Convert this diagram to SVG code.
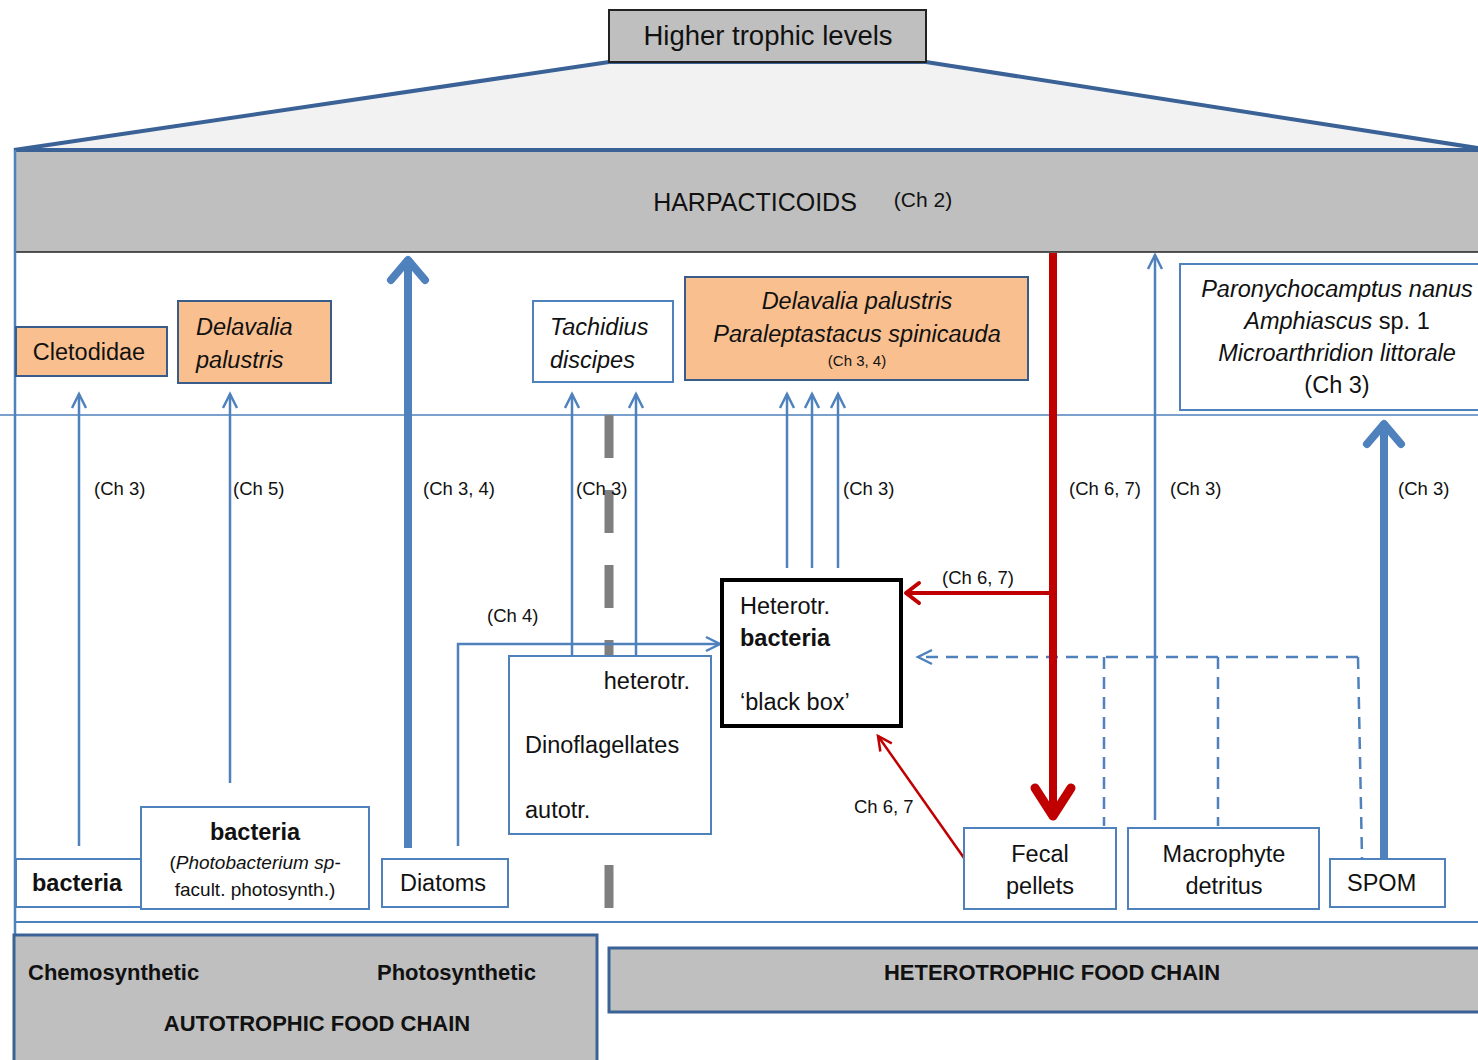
<svg xmlns="http://www.w3.org/2000/svg" width="1478" height="1060" viewBox="0 0 1478 1060">
<style>
text{font-family:"Liberation Sans","Open Sans",sans-serif;fill:#111}
.lab{font-size:18.5px}
.nt{font-size:23.5px}
.it{font-style:italic}
.b{font-weight:bold}
.box{fill:#fff;stroke:#4f81bd;stroke-width:2}
.org{fill:#f9bf8f;stroke:#385d8a;stroke-width:2}
.ar{fill:none;stroke:#4f81bd;stroke-width:2.5}
.arT{fill:none;stroke:#4f81bd;stroke-width:8}
.ds{fill:none;stroke:#4f81bd;stroke-width:2.5;stroke-dasharray:12 8}
.bt{font-weight:bold;font-size:22px}
</style>
<defs>
<marker id="mb" markerUnits="userSpaceOnUse" markerWidth="30" markerHeight="30" viewBox="-15 -15 30 30" refX="0" refY="0" orient="auto" overflow="visible">
<path d="M-14,-7 L0,0 L-14,7" fill="none" stroke="#4f81bd" stroke-width="2.5"/>
</marker>
<marker id="mbT" markerUnits="userSpaceOnUse" markerWidth="60" markerHeight="60" viewBox="-30 -30 60 60" refX="0" refY="0" orient="auto" overflow="visible">
<path d="M-22,-17 L-2,0 L-22,17" fill="none" stroke="#4f81bd" stroke-width="8" stroke-linecap="round" stroke-linejoin="round"/>
</marker>
<marker id="mr" markerUnits="userSpaceOnUse" markerWidth="40" markerHeight="40" viewBox="-20 -20 40 40" refX="0" refY="0" orient="auto" overflow="visible">
<path d="M-14,-10 L-1,0 L-14,10" fill="none" stroke="#c00000" stroke-width="4" stroke-linecap="round" stroke-linejoin="round"/>
</marker>
<marker id="mrT" markerUnits="userSpaceOnUse" markerWidth="80" markerHeight="80" viewBox="-40 -40 80 80" refX="0" refY="0" orient="auto" overflow="visible">
<path d="M-30,-18 L-2,0 L-30,18" fill="none" stroke="#c00000" stroke-width="9" stroke-linecap="round" stroke-linejoin="round"/>
</marker>
<marker id="mrs" markerUnits="userSpaceOnUse" markerWidth="30" markerHeight="30" viewBox="-15 -15 30 30" refX="0" refY="0" orient="auto" overflow="visible">
<path d="M-14,-7 L0,0 L-14,7" fill="none" stroke="#c00000" stroke-width="2.5"/>
</marker>
</defs>
<rect width="1478" height="1060" fill="#fff"/>

<g id="pyramid">
<polygon points="14,150 609,62 926,62 1490,150" fill="#f2f2f2" stroke="#3b6296" stroke-width="4"/>
</g>
<g id="higher">
<rect x="609" y="10" width="317" height="52" fill="#bfbfbf" stroke="#222" stroke-width="2"/>
<text x="768" y="45" font-size="27.5" text-anchor="middle">Higher trophic levels</text>
</g>
<g id="harpacticoids">
<rect x="14" y="150" width="1470" height="102" fill="#bfbfbf"/>
<line x1="14" y1="150" x2="1478" y2="150" stroke="#3b6296" stroke-width="4"/>
<line x1="14" y1="252" x2="1478" y2="252" stroke="#222" stroke-width="1.5"/>
<text x="755" y="211" font-size="25" text-anchor="middle">HARPACTICOIDS</text>
<text x="923" y="207" font-size="21" text-anchor="middle">(Ch 2)</text>
</g>
<g id="frame">
<line x1="15" y1="150" x2="15" y2="1060" stroke="#4f81bd" stroke-width="2.5"/>
<line x1="0" y1="415" x2="1478" y2="415" stroke="#4f81bd" stroke-width="1.5"/>
<line x1="14" y1="922" x2="1478" y2="922" stroke="#4f81bd" stroke-width="2"/>
<line x1="609" y1="415" x2="609" y2="908" stroke="#7f7f7f" stroke-width="9" stroke-dasharray="43 32"/>
</g>

<g id="connectors">
<line class="ar" x1="79" y1="846" x2="79" y2="394" marker-end="url(#mb)"/>
<line class="ar" x1="230" y1="783" x2="230" y2="394" marker-end="url(#mb)"/>
<line class="arT" x1="408" y1="848" x2="408" y2="258" marker-end="url(#mbT)"/>
<line class="ar" x1="572" y1="656" x2="572" y2="394" marker-end="url(#mb)"/>
<line class="ar" x1="636" y1="656" x2="636" y2="394" marker-end="url(#mb)"/>
<polyline class="ar" points="458,846 458,644 720,644" marker-end="url(#mb)"/>
<line class="ar" x1="787" y1="568" x2="787" y2="394" marker-end="url(#mb)"/>
<line class="ar" x1="812" y1="568" x2="812" y2="394" marker-end="url(#mb)"/>
<line class="ar" x1="838" y1="568" x2="838" y2="394" marker-end="url(#mb)"/>
<line class="ar" x1="1155" y1="820" x2="1155" y2="255" marker-end="url(#mb)"/>
<line class="arT" x1="1384" y1="858" x2="1384" y2="422" marker-end="url(#mbT)"/>
<polyline class="ds" points="1358,657 918,657" marker-end="url(#mb)"/>
<line class="ds" x1="1104" y1="657" x2="1104" y2="826"/>
<line class="ds" x1="1218" y1="657" x2="1218" y2="826"/>
<line class="ds" x1="1358" y1="657" x2="1362" y2="858"/>
<line x1="1053" y1="253" x2="1053" y2="818" stroke="#c00000" stroke-width="8" marker-end="url(#mrT)"/>
<line x1="1053" y1="593" x2="905" y2="593" stroke="#c00000" stroke-width="4" marker-end="url(#mr)"/>
<line x1="964" y1="858" x2="878" y2="736" stroke="#c00000" stroke-width="2.5" marker-end="url(#mrs)"/>
<text class="lab" x="94" y="495">(Ch 3)</text>
<text class="lab" x="233" y="495">(Ch 5)</text>
<text class="lab" x="423" y="495">(Ch 3, 4)</text>
<text class="lab" x="576" y="495">(Ch 3)</text>
<text class="lab" x="487" y="622">(Ch 4)</text>
<text class="lab" x="843" y="495">(Ch 3)</text>
<text class="lab" x="942" y="584">(Ch 6, 7)</text>
<text class="lab" x="854" y="813">Ch 6, 7</text>
<text class="lab" x="1069" y="495">(Ch 6, 7)</text>
<text class="lab" x="1170" y="495">(Ch 3)</text>
<text class="lab" x="1398" y="495">(Ch 3)</text>
</g>

<g id="cletodidae">
<rect class="org" x="16" y="327" width="151" height="49"/>
<text class="nt" x="89" y="360" text-anchor="middle">Cletodidae</text>
</g>
<g id="delavalia-left">
<rect class="org" x="178" y="301" width="153" height="82"/>
<text class="nt it" x="196" y="335">Delavalia</text>
<text class="nt it" x="196" y="368">palustris</text>
</g>
<g id="tachidius">
<rect class="box" x="533" y="301" width="140" height="81"/>
<text class="nt it" x="550" y="335">Tachidius</text>
<text class="nt it" x="550" y="368">discipes</text>
</g>
<g id="delavalia-para">
<rect class="org" x="685" y="277" width="343" height="103"/>
<text class="nt it" x="857" y="309" text-anchor="middle">Delavalia palustris</text>
<text class="nt it" x="857" y="342" text-anchor="middle">Paraleptastacus spinicauda</text>
<text x="857" y="366" font-size="15" text-anchor="middle">(Ch 3, 4)</text>
</g>
<g id="paronychocamptus">
<rect class="box" x="1180" y="264" width="310" height="146" stroke="#385d8a"/>
<text class="nt it" x="1337" y="297" text-anchor="middle">Paronychocamptus nanus</text>
<text class="nt" x="1337" y="329" text-anchor="middle"><tspan class="it">Amphiascus</tspan> sp. 1</text>
<text class="nt it" x="1337" y="361" text-anchor="middle">Microarthridion littorale</text>
<text class="nt" x="1337" y="393" text-anchor="middle">(Ch 3)</text>
</g>
<g id="heterotr-bacteria">
<rect x="722" y="580" width="179" height="146" fill="#fff" stroke="#000" stroke-width="4"/>
<text class="nt" x="740" y="614">Heterotr.</text>
<text class="nt b" x="740" y="646">bacteria</text>
<text class="nt" x="740" y="710">‘black box’</text>
</g>
<g id="dinoflagellates">
<rect class="box" x="509" y="656" width="202" height="178"/>
<text class="nt" x="690" y="689" text-anchor="end">heterotr.</text>
<text class="nt" x="525" y="753">Dinoflagellates</text>
<text class="nt" x="525" y="818">autotr.</text>
</g>
<g id="bacteria-chemo">
<rect class="box" x="16" y="859" width="125" height="48" stroke="#385d8a"/>
<text class="nt b" x="32" y="891">bacteria</text>
</g>
<g id="bacteria-photo">
<rect class="box" x="141" y="807" width="228" height="102" stroke="#385d8a"/>
<text class="nt b" x="255" y="840" text-anchor="middle">bacteria</text>
<text x="255" y="869" font-size="19" text-anchor="middle">(<tspan class="it">Photobacterium sp-</tspan></text>
<text x="255" y="896" font-size="19" text-anchor="middle">facult. photosynth.)</text>
</g>
<g id="diatoms">
<rect class="box" x="382" y="859" width="126" height="48"/>
<text class="nt" x="443" y="891" text-anchor="middle">Diatoms</text>
</g>
<g id="fecal">
<rect class="box" x="964" y="828" width="152" height="81"/>
<text class="nt" x="1040" y="862" text-anchor="middle">Fecal</text>
<text class="nt" x="1040" y="894" text-anchor="middle">pellets</text>
</g>
<g id="macrophyte">
<rect class="box" x="1128" y="828" width="191" height="81"/>
<text class="nt" x="1224" y="862" text-anchor="middle">Macrophyte</text>
<text class="nt" x="1224" y="894" text-anchor="middle">detritus</text>
</g>
<g id="spom">
<rect class="box" x="1330" y="859" width="115" height="48"/>
<text class="nt" x="1347" y="891">SPOM</text>
</g>

<g id="autotrophic">
<rect x="14" y="935" width="583" height="140" fill="#bfbfbf" stroke="#3b6296" stroke-width="3"/>
<text class="bt" x="28" y="980">Chemosynthetic</text>
<text class="bt" x="377" y="980">Photosynthetic</text>
<text class="bt" x="317" y="1031" text-anchor="middle">AUTOTROPHIC FOOD CHAIN</text>
</g>
<g id="heterotrophic">
<rect x="609" y="948" width="880" height="64" fill="#bfbfbf" stroke="#3b6296" stroke-width="3"/>
<text class="bt" x="1052" y="980" text-anchor="middle">HETEROTROPHIC FOOD CHAIN</text>
</g>
</svg>
